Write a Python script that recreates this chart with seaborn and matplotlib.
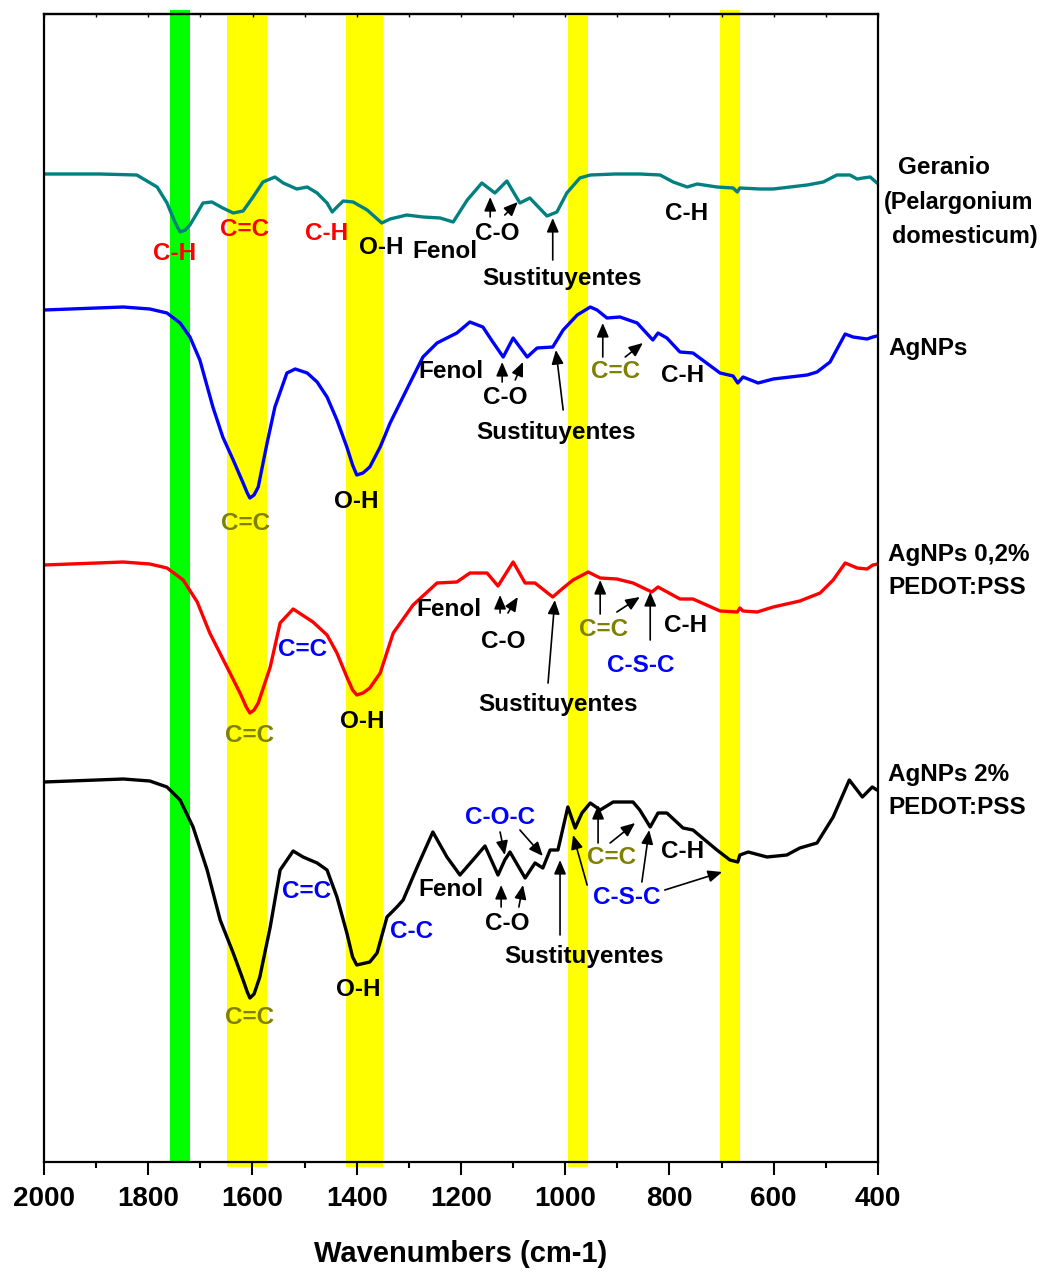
import numpy as np
import pandas as pd
import matplotlib
matplotlib.use("Agg")
import matplotlib.pyplot as plt
import seaborn as sns

# ---------------- data (wavenumber cm-1, offset transmittance a.u.) ----------------
geranio_wn = [2000, 1893, 1822, 1783, 1764, 1749, 1739, 1729, 1720, 1695, 1678, 1657, 1637, 1618,
              1599, 1580, 1557, 1541, 1515, 1495, 1476, 1457, 1447, 1438, 1426, 1407, 1380, 1352,
              1336, 1304, 1273, 1240, 1215, 1188, 1160, 1135, 1112, 1087, 1068, 1035, 1016, 997,
              972, 952, 904, 857, 818, 793, 766, 747, 709, 678, 670, 665, 626, 601, 536, 505, 479,
              454, 440, 429, 415, 402]
geranio_t = [988, 988, 987, 975, 959, 940, 930, 932, 937, 959, 960, 954, 949, 951,
             965, 980, 985, 979, 973, 975, 969, 959, 950, 955, 961, 960, 952, 939,
             943, 947, 945, 944, 940, 962, 979, 969, 981, 959, 964, 946, 950, 969,
             984, 987, 988, 988, 987, 980, 975, 978, 975, 974, 970, 974, 973, 973, 977, 980, 987,
             987, 983, 984, 985, 979]

agnps_wn = [2000, 1848, 1797, 1764, 1739, 1720, 1701, 1676, 1657, 1637, 1618, 1610, 1605, 1597,
            1589, 1572, 1557, 1534, 1518, 1495, 1476, 1457, 1438, 1419, 1408, 1400, 1388, 1375,
            1355, 1336, 1317, 1298, 1273, 1246, 1208, 1183, 1158, 1139, 1119, 1100, 1073, 1054,
            1024, 1004, 977, 952, 939, 920, 895, 862, 832, 822, 805, 780, 755, 703, 678, 669,
            659, 630, 601, 536, 517, 492, 463, 448, 421, 410, 402]
agnps_t = [852, 855, 853, 849, 839, 825, 802, 755, 725, 702, 679, 669, 664, 667,
           675, 719, 755, 789, 793, 789, 780, 765, 742, 715, 697, 687, 689, 695,
           715, 739, 759, 779, 805, 819, 829, 840, 835, 820, 805, 824, 805, 814,
           815, 832, 847, 855, 852, 844, 845, 839, 822, 829, 824, 810, 809, 789, 786, 779,
           785, 779, 783, 787, 790, 800, 828, 825, 823, 825, 826]

pedot02_wn = [2000, 1848, 1797, 1764, 1733, 1706, 1682, 1649, 1624, 1612, 1605, 1597, 1589, 1566,
              1547, 1522, 1484, 1457, 1438, 1419, 1408, 1400, 1388, 1375, 1355, 1330, 1292, 1246,
              1208, 1183, 1150, 1129, 1100, 1077, 1058, 1024, 1004, 985, 956, 933, 901, 870, 834,
              822, 780, 755, 703, 670, 665, 659, 632, 601, 550, 511, 486, 463, 440, 421, 410, 400]
pedot02_t = [597, 600, 598, 594, 582, 560, 529, 495, 469, 455, 449, 452, 459, 495,
             539, 553, 540, 527, 509, 485, 472, 467, 469, 474, 489, 529, 557, 579,
             580, 589, 589, 576, 600, 579, 579, 565, 574, 582, 590, 584, 583, 579, 570,
             575, 563, 563, 551, 550, 554, 551, 550, 555, 561, 569, 582, 599, 594, 593, 597, 598]

pedot2_wn = [2000, 1848, 1797, 1764, 1739, 1714, 1687, 1662, 1637, 1618, 1610, 1605, 1597, 1586,
             1566, 1547, 1522, 1503, 1476, 1457, 1438, 1419, 1408, 1400, 1375, 1361, 1342, 1323,
             1311, 1284, 1254, 1227, 1202, 1177, 1154, 1129, 1116, 1106, 1077, 1058, 1043, 1029,
             1014, 995, 981, 968, 952, 933, 908, 870, 857, 837, 822, 805, 774, 755, 709, 684, 669,
             665, 649, 613, 575, 550, 517, 486, 455, 430, 411, 402]
pedot2_t = [380, 383, 381, 375, 362, 335, 292, 242, 209, 182, 170, 164, 168, 185,
            235, 292, 311, 305, 299, 292, 265, 229, 205, 197, 200, 209, 245, 255,
            262, 295, 330, 305, 287, 302, 316, 287, 302, 310, 284, 299, 294, 312,
            312, 355, 334, 349, 359, 352, 360, 360, 352, 335, 349, 349, 334, 332, 312, 302, 300,
            307, 310, 305, 307, 314, 319, 345, 382, 365, 375, 372]

series_names = ["Geranio", "AgNPs", "AgNPs 0,2% PEDOT:PSS", "AgNPs 2% PEDOT:PSS"]
series_colors = ["#008080", "#0000FF", "#FF0000", "#000000"]

# highlighted bands (cm-1)
band_lo = [1720, 1572, 1350, 956, 665]
band_hi = [1758, 1649, 1421, 995, 703]
band_colors = ["#00FF00", "#FFFF00", "#FFFF00", "#FFFF00", "#FFFF00"]

x_ticks = [2000, 1800, 1600, 1400, 1200, 1000, 800, 600, 400]

# ---------------- figure ----------------
sns.set_theme(style="ticks")
plt.rcParams['font.family'] = ['Liberation Sans', 'DejaVu Sans']
plt.rcParams['font.weight'] = 'bold'
plt.rcParams['text.color'] = 'black'
plt.rcParams['axes.labelcolor'] = 'black'
plt.rcParams['xtick.color'] = 'black'
plt.rcParams['ytick.color'] = 'black'

fig = plt.figure(figsize=(10.43, 12.72), dpi=100)
ax = fig.add_axes([44 / 1043, 1 - 1162 / 1272, 834 / 1043, 1148 / 1272])

# bands
for i, (lo, hi, c) in enumerate(zip(band_lo, band_hi, band_colors)):
    if i in (0, 4):
        ymin, ymax = 0.0, 1.0035
    else:
        ymin, ymax = -0.0044, 0.998
    ax.axvspan(lo, hi, ymin=ymin, ymax=ymax, color=c, lw=0, zorder=0, clip_on=False)

frames = []
for name, wn, t in zip(series_names,
                       [geranio_wn, agnps_wn, pedot02_wn, pedot2_wn],
                       [geranio_t, agnps_t, pedot02_t, pedot2_t]):
    frames.append(pd.DataFrame({"wn": wn, "t": t, "sample": name}))
df = pd.concat(frames, ignore_index=True)

for name, col in zip(series_names, series_colors):
    sub = df[df["sample"] == name]
    sns.lineplot(data=sub, x="wn", y="t", color=col, lw=2.4, sort=False,
                 estimator=None, ax=ax, zorder=3)

ax.set_xlim(2000, 400)
ax.set_ylim(0, 1148)
ax.set_yticks([])
ax.set_ylabel("")
ax.set_xticks(x_ticks)
ax.set_xticks(np.arange(1900, 400, -200), minor=True)
ax.set_xticklabels([str(v) for v in x_ticks], fontsize=20, fontweight='bold', color='black')
ax.tick_params(axis='x', which='major', bottom=True, top=False, length=9.5, width=1.5,
               direction='out', pad=8, colors='black')
ax.tick_params(axis='x', which='minor', bottom=True, top=False, length=4.5, width=1.5,
               direction='out', colors='black')
# small inward ticks on top spine
axt = ax.secondary_xaxis('top')
axt.set_xticks(np.arange(2000, 399, -100))
axt.set_xticklabels([])
axt.tick_params(axis='x', direction='in', length=2.5, width=1.0, colors='black')
axt.spines['top'].set_linewidth(1.6)

ax.set_xlabel("Wavenumbers (cm-1)", fontsize=21, fontweight='bold', labelpad=20, color='black')
for s in ax.spines.values():
    s.set_linewidth(1.6)
    s.set_color('black')
    s.set_zorder(5)

OLIVE = "#808000"
BLUE = "#0000FF"
RED = "#FF0000"
K = "black"
FS = 17.5

labels = [
    # Geranio
    ("C-H", RED, 1749, 909), ("C=C", RED, 1616, 933), ("C-H", RED, 1457, 928),
    ("O-H", K, 1353, 915), ("Fenol", K, 1231, 911), ("C-O", K, 1131, 929),
    ("Sustituyentes", K, 1006, 884), ("C-H", K, 768, 949),
    # AgNPs
    ("Fenol", K, 1219, 791), ("C-O", K, 1116, 764), ("Sustituyentes", K, 1018, 730),
    ("C=C", OLIVE, 904, 790), ("C-H", K, 774, 787), ("O-H", K, 1401, 660),
    ("C=C", OLIVE, 1614, 638),
    # AgNPs 0,2%
    ("Fenol", K, 1223, 553), ("C-O", K, 1119, 521), ("C=C", BLUE, 1503, 512),
    ("C=C", OLIVE, 1605, 427), ("O-H", K, 1390, 440), ("Sustituyentes", K, 1014, 457),
    ("C=C", OLIVE, 926, 533), ("C-H", K, 770, 537), ("C-S-C", BLUE, 855, 496),
    # AgNPs 2%
    ("C-O-C", BLUE, 1125, 345), ("C=C", BLUE, 1497, 271), ("C-C", BLUE, 1294, 230),
    ("Fenol", K, 1219, 273), ("C-O", K, 1112, 239), ("Sustituyentes", K, 964, 206),
    ("C=C", OLIVE, 912, 305), ("C-H", K, 774, 310), ("C-S-C", BLUE, 882, 264),
    ("O-H", K, 1398, 172), ("C=C", OLIVE, 1605, 144),
]
for txt, c, x, y in labels:
    ax.text(x, y, txt, color=c, fontsize=FS, fontweight='bold', ha='center', va='center', zorder=6)

arrows = [
    ((1144, 945), (1144, 965)), ((1116, 947), (1091, 960)), ((1024, 902), (1024, 944)),
    ((1121, 780), (1121, 800)), ((1096, 782), (1081, 800)), ((1004, 752), (1018, 812)),
    ((928, 805), (928, 839)), ((885, 805), (851, 819)),
    ((1125, 549), (1125, 567)), ((1110, 549), (1091, 565)), ((1033, 479), (1020, 562)),
    ((933, 548), (933, 582)), ((901, 550), (857, 565)), ((837, 522), (837, 570)),
    ((1125, 330), (1116, 307)), ((1087, 332), (1043, 306)),
    ((1123, 255), (1123, 277)), ((1089, 255), (1081, 277)), ((1010, 227), (1010, 302)),
    ((937, 319), (937, 357)), ((914, 319), (866, 339)),
    ((958, 277), (985, 327)), ((853, 280), (839, 332)), ((809, 272), (699, 290)),
]
for (x0, y0), (x1, y1) in arrows:
    ax.annotate("", xy=(x1, y1), xytext=(x0, y0),
                arrowprops=dict(arrowstyle="-|>,head_length=0.7,head_width=0.3",
                                color="black", lw=1.2, shrinkA=0, shrinkB=0), zorder=6)

# right-hand sample labels
right = [
    ("Geranio", 898, 167), ("(Pelargonium", 884, 202), ("domesticum)", 892, 236),
    ("AgNPs", 888, 349),
    ("AgNPs 0,2%", 888, 554), ("PEDOT:PSS", 888, 587),
    ("AgNPs 2%", 888, 775), ("PEDOT:PSS", 888, 808),
]
for txt, px, py in right:
    fs = 16.8 if txt in ("(Pelargonium", "domesticum)") else 17.5
    fig.text(px / 1043, 1 - py / 1272, txt, fontsize=fs, fontweight='bold',
             ha='left', va='center', color='black')

fig.savefig("out.png", dpi=100)
